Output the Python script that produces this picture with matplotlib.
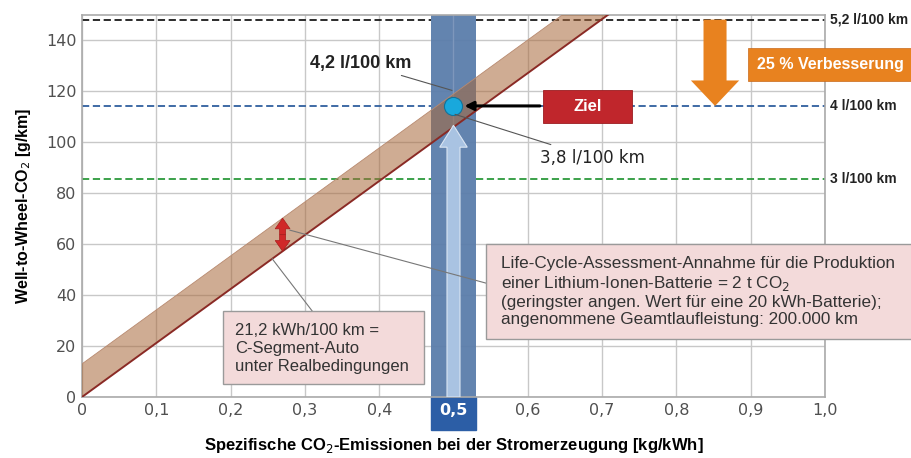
import matplotlib
matplotlib.use('Agg')
import matplotlib.pyplot as plt
import numpy as np
from matplotlib.patches import FancyArrow, Rectangle
from matplotlib.ticker import FixedLocator

# Strom-Emissionsfaktor (kg/kWh) und Verbrauch
x_ticks = [0.0, 0.1, 0.2, 0.3, 0.4, 0.5, 0.6, 0.7, 0.8, 0.9, 1.0]
x_labels = ['0', '0,1', '0,2', '0,3', '0,4', '0,5', '0,6', '0,7', '0,8', '0,9', '1,0']
y_ticks = [0, 20, 40, 60, 80, 100, 120, 140]
consumption = 212.0        # g CO2 pro km je kg/kWh (21,2 kWh/100 km)
battery_offset = 13.0      # g/km aus Batterieproduktion
# Referenzlinien Verbrenner
ref_values = [148.2, 114.3, 85.5]
ref_labels = ['5,2 l/100 km', '4 l/100 km', '3 l/100 km']
ref_colors = ['#1a1a1a', '#2f5f9e', '#2c9a3c']
target_x = 0.5
target_y = 114.3
upper_label_y = 120.4
lower_label_y = 111.0
column = [0.470, 0.530]
battery_x = 0.27

BOLD = 'Liberation Sans'

fig = plt.figure(figsize=(9.12, 4.58), dpi=100)
ax = fig.add_axes([0.0899, 0.1332, 0.8147, 0.834])
ax.set_xlim(0, 1.0)
ax.set_ylim(0, 150)

ax.xaxis.set_major_locator(FixedLocator(x_ticks))
ax.set_xticklabels(x_labels)
ax.set_yticks(y_ticks)
ax.tick_params(length=0, labelsize=11.5, labelcolor='#505050', pad=4)
ax.grid(True, color='#c8c8c8', lw=1)
ax.set_axisbelow(True)
for s in ax.spines.values():
    s.set_color('#aaaaaa')
    s.set_linewidth(1.2)

# Saeule bei 0,5 kg/kWh
ax.axvspan(column[0], column[1], color='#5b7dab', alpha=0.95, lw=0, zorder=2)
ax.axvline(target_x, color='#7d97bc', lw=1, zorder=2.1)

# Referenzlinien
for v, lab, c in zip(ref_values, ref_labels, ref_colors):
    ax.plot([0, column[0]], [v, v], color=c, ls=(0, (4, 2)), lw=1.3, zorder=1.5)
    ax.plot([column[1], 1.0], [v, v], color=c, ls=(0, (4, 2)), lw=1.3, zorder=1.5)
    ax.text(1.007, v, lab, transform=ax.get_yaxis_transform(), va='center', ha='left',
            fontsize=10, fontweight='bold', family=BOLD, color='#222222', clip_on=False)

# Band: Stromverbrauch plus Batterie
xs = np.linspace(0, 1.0, 200)
lower = consumption * xs
upper = consumption * xs + battery_offset
ax.fill_between(xs, lower, upper, color='#a8683a', alpha=0.55, lw=0, zorder=3)
ax.plot(xs, lower, color='#8a2a25', lw=1.4, zorder=3.5)
ax.plot(xs, upper, color='#b88a70', lw=0.6, zorder=3.5)

# Pfeil von unten zum Zielpunkt
ax.add_patch(FancyArrow(target_x, 0, 0, 106.7, width=0.0175, head_width=0.037,
                        head_length=8.6, length_includes_head=True,
                        fc='#a9c3e2', ec='#dbe6f3', lw=0.8, zorder=6))
ticklabels = ax.get_xticklabels()
ticklabels[5].set_color('white')
ticklabels[5].set_fontweight('bold')
ax.add_patch(Rectangle((column[0], -13), column[1] - column[0], 13, color='#2c5ea6',
                       clip_on=False, zorder=0.1))

# Zielpunkt
ax.scatter([target_x], [target_y], s=170, color='#19a8dc', edgecolor='#13739a', lw=0.8,
           zorder=9)
ax.annotate('', xy=(target_x + 0.011, target_y), xytext=(0.62, target_y),
            arrowprops=dict(arrowstyle='-|>', color='black', lw=2.2, mutation_scale=13),
            zorder=8)
ax.add_patch(Rectangle((0.62, 107.5), 0.12, 12.9, fc='#c0262c', ec='#9c1c20', lw=0.6,
                       zorder=9))
ax.text(0.68, 113.95, 'Ziel', ha='center', va='center', fontsize=12, fontweight='bold',
        family=BOLD, color='white', zorder=10)

# 4,2 und 3,8 l/100 km
ax.annotate('4,2 l/100 km', xy=(target_x - 0.002, upper_label_y), xytext=(0.443, 131),
            ha='right', va='center', fontsize=13, fontweight='bold', family=BOLD,
            color='#222222',
            arrowprops=dict(arrowstyle='-', color='#555555', lw=0.8, shrinkA=2, shrinkB=0),
            zorder=10)
ax.annotate('3,8 l/100 km', xy=(target_x + 0.002, lower_label_y), xytext=(0.616, 94),
            ha='left', va='center', fontsize=12, color='#222222',
            arrowprops=dict(arrowstyle='-', color='#555555', lw=0.8, shrinkA=3, shrinkB=0),
            zorder=10)

# Verbesserung 25 %
ax.add_patch(FancyArrow(0.852, ref_values[0], 0, ref_values[1] - ref_values[0],
                        width=0.031, head_width=0.065, head_length=10,
                        length_includes_head=True, color='#e8821f', lw=0, zorder=7))
ax.add_patch(Rectangle((0.897, 123.9), 0.22, 13, fc='#e8821f', ec='#c8691a', lw=0.5,
                       clip_on=False, zorder=11))
ax.text(1.007, 130.4, '25 % Verbesserung', ha='center', va='center', fontsize=11.5,
        fontweight='bold', family=BOLD, color='white', zorder=12, clip_on=False)

# Doppelpfeil Batterie-Anteil (zwischen unterer und oberer Bandkante)
b_low = consumption * battery_x
b_high = b_low + battery_offset
b_mid = (b_low + b_high) / 2
for end in (b_high, b_low):
    ax.add_patch(FancyArrow(battery_x, b_mid, 0, end - b_mid, width=0.008,
                            head_width=0.02, head_length=4.2, length_includes_head=True,
                            fc='#d02828', ec='#a81c1c', lw=0.5, zorder=8))

# Erklaerungskaesten
box_fc = '#f3dada'
box_ec = '#9a9a9a'
ax.add_patch(Rectangle((0.190, 5.1), 0.27, 28.6, fc=box_fc, ec=box_ec, lw=1, zorder=10))
ax.plot([0.256, 0.31], [consumption * 0.256, 33.7], color='#777777', lw=0.8, zorder=9)
ax.text(0.206, 19.0, '21,2 kWh/100 km =\nC-Segment-Auto\nunter Realbedingungen',
        ha='left', va='center', fontsize=12, family='Liberation Sans', color='#333333',
        linespacing=1.25, zorder=11)

ax.add_patch(Rectangle((0.544, 22.7), 0.573, 37.3, fc=box_fc, ec=box_ec, lw=1,
                       clip_on=False, zorder=10))
ax.plot([0.28, 0.544], [65.5, 44.7], color='#777777', lw=0.8, zorder=9)
ax.text(0.564, 41.3, 'Life-Cycle-Assessment-Annahme für die Produktion\n'
        'einer Lithium-Ionen-Batterie = 2 t CO$_2$\n'
        '(geringster angen. Wert für eine 20 kWh-Batterie);\n'
        'angenommene Geamtlaufleistung: 200.000 km',
        ha='left', va='center', fontsize=12.3, family='Liberation Sans', color='#333333',
        linespacing=1.18, zorder=11, clip_on=False)

ax.set_ylabel('Well-to-Wheel-CO$_2$ [g/km]', fontsize=11.5, fontweight='bold',
              family=BOLD, labelpad=9)
ax.set_xlabel('Spezifische CO$_2$-Emissionen bei der Stromerzeugung [kg/kWh]', fontsize=12,
              fontweight='bold', family=BOLD, labelpad=13)

plt.savefig('out.png', dpi=100)
